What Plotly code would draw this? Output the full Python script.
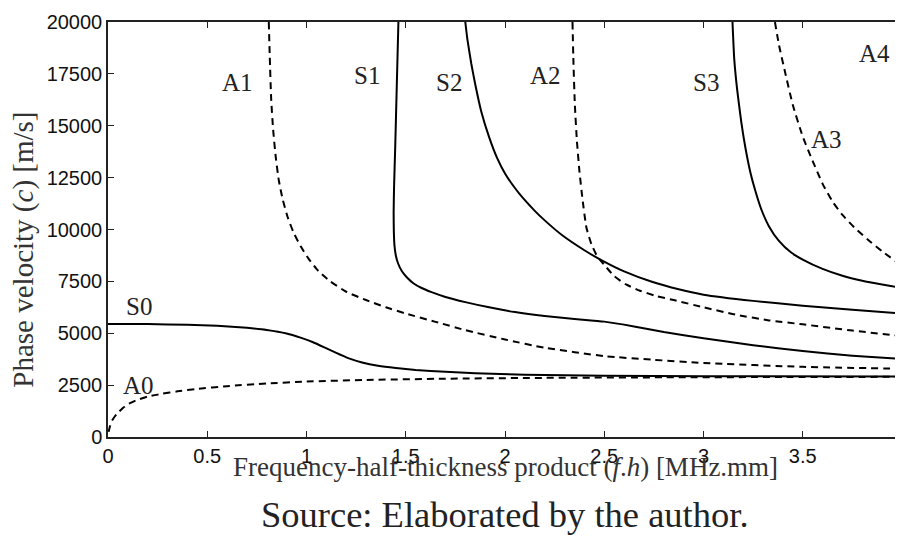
import plotly.graph_objects as go

# dispersion curves: f.h [MHz.mm] vs phase velocity [m/s]
a0_fh = [0.003, 0.01, 0.02, 0.035, 0.05, 0.075, 0.1, 0.14, 0.2, 0.27, 0.35, 0.45, 0.6, 0.8, 1.0, 1.3, 1.7, 2.2, 2.8, 3.4, 4.0]
a0_c = [250, 520, 780, 1000, 1170, 1400, 1580, 1760, 1950, 2080, 2200, 2320, 2450, 2580, 2670, 2750, 2810, 2850, 2875, 2890, 2900]

s0_fh = [0.0, 0.2, 0.4, 0.55, 0.7, 0.8, 0.9, 0.97, 1.03, 1.09, 1.15, 1.21, 1.28, 1.36, 1.45, 1.55, 1.7, 1.85, 2.1, 2.5, 3.0, 4.0]
s0_c = [5450, 5440, 5410, 5360, 5260, 5160, 4990, 4790, 4580, 4320, 4050, 3800, 3590, 3430, 3320, 3230, 3140, 3070, 3000, 2950, 2930, 2910]

a1_fh = [0.81, 0.815, 0.822, 0.832, 0.845, 0.86, 0.88, 0.905, 0.935, 0.97, 1.01, 1.06, 1.12, 1.2, 1.3, 1.4, 1.5,
         1.65, 1.8, 2.0, 2.2, 2.5, 2.75, 3.0, 3.5, 4.0]
a1_c = [20000, 18300, 16300, 14800, 13500, 12400, 11450, 10600, 9850, 9200, 8600, 8000, 7500, 7000, 6600, 6250, 5950,
        5550, 5150, 4700, 4300, 3900, 3720, 3570, 3380, 3290]

s1_fh = [1.463, 1.455, 1.447, 1.441, 1.439, 1.44, 1.443, 1.45, 1.462, 1.48, 1.505, 1.54, 1.58, 1.63, 1.7, 1.8, 1.92,
         2.05, 2.2, 2.35, 2.5, 2.65, 2.8, 3.0, 3.25, 3.5, 3.75, 4.0]
s1_c = [20000, 17000, 14000, 12000, 10800, 9900, 9250, 8750, 8350, 8000, 7700, 7400, 7180, 6980, 6750, 6500, 6250,
        6020, 5830, 5690, 5560, 5330, 5060, 4760, 4420, 4140, 3920, 3760]

s2_fh = [1.8, 1.81, 1.83, 1.85, 1.88, 1.92, 1.96, 2.0, 2.05, 2.09, 2.15, 2.2, 2.29, 2.4, 2.49, 2.6, 2.74, 2.87, 3.0,
         3.25, 3.5, 3.75, 4.0]
s2_c = [20000, 19200, 18000, 17000, 15700, 14450, 13450, 12700, 12000, 11520, 10900, 10440, 9710, 9000, 8500, 7980,
        7480, 7130, 6860, 6560, 6330, 6130, 5950]

a2_fh = [2.34, 2.345, 2.352, 2.362, 2.375, 2.39, 2.41, 2.435, 2.465, 2.5, 2.55, 2.61, 2.68, 2.76, 2.85, 3.0, 3.16,
         3.33, 3.5, 3.75, 4.0]
a2_c = [20000, 18000, 16000, 14300, 12800, 11500, 10100, 9300, 8700, 8300, 7750, 7350, 7050, 6800, 6600, 6250, 5900,
        5620, 5430, 5130, 4860]

s3_fh = [3.146, 3.155, 3.17, 3.19, 3.21, 3.235, 3.26, 3.29, 3.33, 3.38, 3.44, 3.5, 3.6, 3.7, 3.8, 3.9, 4.0]
s3_c = [20000, 18200, 16700, 15200, 14000, 12800, 11900, 11000, 10150, 9450, 8900, 8550, 8100, 7770, 7530, 7350, 7190]

a3_fh = [3.36, 3.38, 3.41, 3.45, 3.5, 3.55, 3.6, 3.65, 3.7, 3.76, 3.83, 3.9, 4.0]
a3_c = [20000, 18900, 17620, 16000, 14480, 13300, 12200, 11350, 10700, 10100, 9500, 8950, 8250]

a4_fh = [3.972, 3.98, 3.99, 4.0]
a4_c = [20000, 19300, 18300, 17480]

# mode labels and where they sit (data coords)
labels = ["A0", "S0", "A1", "S1", "S2", "A2", "S3", "A3", "A4"]
label_x = [0.152, 0.157, 0.652, 1.303, 1.717, 2.202, 3.015, 3.621, 3.859]
label_y = [2476, 6286, 17095, 17430, 17095, 17430, 17095, 14330, 18476]

curves = [
    ("A0", a0_fh, a0_c, "dash"), ("S0", s0_fh, s0_c, "solid"),
    ("A1", a1_fh, a1_c, "dash"), ("S1", s1_fh, s1_c, "solid"),
    ("S2", s2_fh, s2_c, "solid"), ("A2", a2_fh, a2_c, "dash"),
    ("S3", s3_fh, s3_c, "solid"), ("A3", a3_fh, a3_c, "dash"),
    ("A4", a4_fh, a4_c, "dash"),
]

fig = go.Figure()
for name, xs, ys, dash in curves:
    fig.add_trace(go.Scatter(
        x=xs, y=ys, mode="lines", name=name,
        line=dict(color="black", width=2, shape="spline", smoothing=0.5,
                  dash="7px,5px" if dash == "dash" else "solid"),
        showlegend=False, hoverinfo="skip",
    ))

for t, lx, ly in zip(labels, label_x, label_y):
    fig.add_annotation(x=lx, y=ly, text=t, showarrow=False,
                       font=dict(family="Liberation Serif", size=25, color="#222"))

axis_style = dict(
    showgrid=False, zeroline=False, showline=True, linecolor="#222", linewidth=1.5,
    mirror="ticks", ticks="inside", ticklen=6, tickcolor="#222", tickwidth=1,
    tickfont=dict(family="Liberation Sans", size=20, color="#111"),
    ticklabeloverflow="allow",
)

fig.update_xaxes(range=[0, 4], tickvals=[0, 0.5, 1, 1.5, 2, 2.5, 3, 3.5, 4],
                 ticktext=["0", "0.5", "1", "1.5", "2", "2.5", "3", "3.5", "4"], **axis_style)
fig.update_yaxes(range=[0, 20000], tickvals=list(range(0, 20001, 2500)),
                 ticktext=[str(v) for v in range(0, 20001, 2500)], **axis_style)

# titles as free text, positioned in plot-area fractions (plot area 800 x 424 px)
pw, ph = 800, 424
fig.add_annotation(xref="paper", yref="paper", x=-86 / pw, y=191 / ph, textangle=-90,
                   xanchor="center", yanchor="middle",
                   text="Phase velocity (<i>c</i>) [m/s]", showarrow=False,
                   font=dict(family="Liberation Serif", size=29, color="#333"))
fig.add_annotation(xref="paper", yref="paper", x=0.5, y=-31 / ph, xanchor="center", yanchor="middle",
                   text="Frequency-half-thickness product (<i>f</i>.<i>h</i>) [MHz.mm]",
                   showarrow=False, font=dict(family="Liberation Serif", size=27, color="#333"))
fig.add_annotation(xref="paper", yref="paper", x=0.5, y=-79 / ph, xanchor="center", yanchor="middle",
                   text="Source: Elaborated by the author.", showarrow=False,
                   font=dict(family="Liberation Serif", size=36.5, color="#222"))

fig.update_layout(
    width=903, height=540,
    margin=dict(l=100, r=3, t=5, b=111),
    paper_bgcolor="white", plot_bgcolor="white",
)

fig.write_html("out.html")
